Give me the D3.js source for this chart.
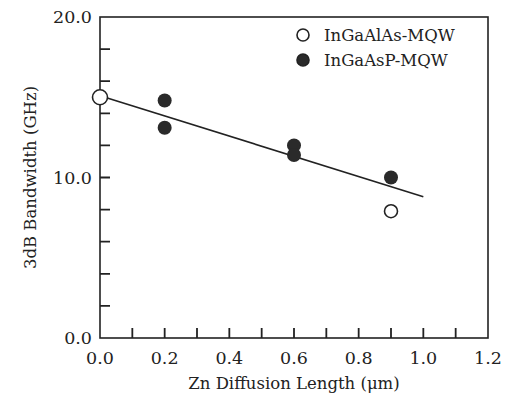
<!DOCTYPE html>
<html>
<head>
<meta charset="utf-8">
<script src="https://cdn.jsdelivr.net/npm/d3@7"></script>
<style>
  body { margin: 0; background: #fff; }
  svg text { font-family: "DejaVu Serif", serif; fill: #222; }
</style>
</head>
<body>
<div id="chart"></div>
<script>
// Data
const ingaalasX = [0.0, 0.9];
const ingaalasY = [15.0, 7.9];
const ingaaspX = [0.2, 0.2, 0.6, 0.6, 0.9];
const ingaaspY = [14.8, 13.1, 12.0, 11.4, 10.0];
const fitX = [0.0, 1.0];
const fitY = [15.1, 8.8];
const xTickLabels = [0.0, 0.2, 0.4, 0.6, 0.8, 1.0, 1.2];
const yTickLabels = [0.0, 10.0, 20.0];
const legendLabels = ["InGaAlAs-MQW", "InGaAsP-MQW"];

const W = 516, H = 402;
const m = { left: 100, top: 17, right: 28, bottom: 64 };

const svg = d3.select("#chart").append("svg")
  .attr("width", W).attr("height", H);

const x = d3.scaleLinear().domain([0, 1.2]).range([m.left, W - m.right]);
const y = d3.scaleLinear().domain([0, 20]).range([H - m.bottom, m.top]);

// ── Frame ──
svg.append("rect")
  .attr("x", x(0)).attr("y", y(20))
  .attr("width", x(1.2) - x(0)).attr("height", y(0) - y(20))
  .attr("fill", "none").attr("stroke", "#222").attr("stroke-width", 1.6);

// ── Ticks (inward) ──
const xMinor = d3.range(1, 12).map(i => i / 10);
const yMinor = d3.range(2, 20, 2);
let tickPath = "";
xMinor.forEach(d => { tickPath += `M${x(d)},${y(0)}V${y(0) - 10}`; });
yMinor.forEach(d => { tickPath += `M${x(0)},${y(d)}H${x(0) + 10}`; });
svg.append("path")
  .attr("d", tickPath)
  .attr("fill", "none")
  .attr("stroke", "#222")
  .attr("stroke-width", 1.8);

// ── Tick labels ──
svg.append("g").selectAll("text").data(xTickLabels)
  .join("text")
  .attr("x", d => x(d)).attr("y", y(0) + 26)
  .attr("text-anchor", "middle").attr("font-size", 17.5)
  .text(d => d.toFixed(1));
svg.append("g").selectAll("text").data(yTickLabels)
  .join("text")
  .attr("x", x(0) - 8).attr("y", d => y(d) + 6)
  .attr("text-anchor", "end").attr("font-size", 17.5)
  .text(d => d.toFixed(1));

// ── Axis titles ──
svg.append("text")
  .attr("x", (x(0) + x(1.2)) / 2).attr("y", 389)
  .attr("text-anchor", "middle").attr("font-size", 16.5)
  .text("Zn Diffusion Length (μm)");
svg.append("text")
  .attr("transform", `translate(36,${(y(0) + y(20)) / 2}) rotate(-90)`)
  .attr("text-anchor", "middle").attr("font-size", 16.5)
  .text("3dB Bandwidth (GHz)");

// ── Fit line ──
svg.append("path")
  .attr("d", d3.line().x(d => x(d[0])).y(d => y(d[1]))(d3.zip(fitX, fitY)))
  .attr("fill", "none").attr("stroke", "#222").attr("stroke-width", 1.6);

// ── Points ──
svg.append("g").selectAll("circle")
  .data(d3.zip(ingaaspX, ingaaspY))
  .join("circle")
  .attr("cx", d => x(d[0])).attr("cy", d => y(d[1]))
  .attr("r", 7).attr("fill", "#2a2a2a");

svg.append("g").selectAll("circle")
  .data(d3.zip(ingaalasX, ingaalasY))
  .join("circle")
  .attr("cx", d => x(d[0])).attr("cy", d => y(d[1]))
  .attr("r", (d, i) => i === 0 ? 7.5 : 6.5)
  .attr("fill", "#fff").attr("stroke", "#222").attr("stroke-width", 1.6);

// ── Legend ──
const lg = svg.append("g");
legendLabels.forEach((lab, i) => {
  const ly = 35 + i * 25;
  lg.append("circle")
    .attr("cx", 303).attr("cy", ly).attr("r", 6)
    .attr("fill", i === 0 ? "#fff" : "#2a2a2a")
    .attr("stroke", "#222").attr("stroke-width", 1.6);
  lg.append("text")
    .attr("x", 324).attr("y", ly + 6)
    .attr("font-size", 16.5)
    .text(lab);
});
</script>
</body>
</html>
